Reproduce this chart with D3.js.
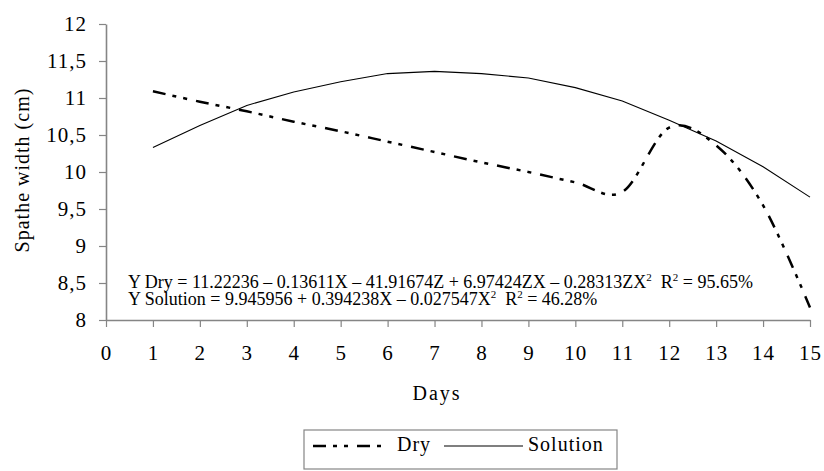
<!DOCTYPE html>
<html>
<head>
<meta charset="utf-8">
<script src="https://cdn.jsdelivr.net/npm/d3@7"></script>
<style>
  body { margin: 0; background: #fff; }
</style>
</head>
<body>
<svg id="chart" width="824" height="471"></svg>
<script>
// values
const days = [1, 2, 3, 4, 5, 6, 7, 8, 9, 10, 11, 12, 13, 14, 15];
const dryValues = [11.09, 10.95, 10.82, 10.68, 10.55, 10.41, 10.27, 10.13, 10.0, 9.86, 9.73, 10.6, 10.36, 9.55, 8.17];
const solutionValues = [10.33, 10.63, 10.9, 11.08, 11.22, 11.33, 11.36, 11.33, 11.27, 11.14, 10.96, 10.7, 10.42, 10.07, 9.66];
const xTicks = [0, 1, 2, 3, 4, 5, 6, 7, 8, 9, 10, 11, 12, 13, 14, 15];
const yTicks = [8, 8.5, 9, 9.5, 10, 10.5, 11, 11.5, 12];
const seriesNames = ['Dry', 'Solution'];
// equation parts: [text, superscript?]
const eqDry = [['Y Dry = 11.22236 – 0.13611X – 41.91674Z + 6.97424ZX – 0.28313ZX', false], ['2', true], ['  R', false], ['2', true], [' = 95.65%', false]];
const eqSolution = [['Y Solution = 9.945956 + 0.394238X – 0.027547X', false], ['2', true], ['  R', false], ['2', true], [' = 46.28%', false]];

const serif = "'Liberation Serif', 'Times New Roman', serif";
const svg = d3.select('#chart');
const axisColor = '#858585';

const x = d3.scaleLinear().domain([0, 15]).range([106, 810]);
const y = d3.scaleLinear().domain([8, 12]).range([320, 24]);

// y axis
const yAxis = svg.append('g')
  .attr('transform', 'translate(106,0)')
  .call(d3.axisLeft(y).tickValues(yTicks).tickSize(7).tickSizeOuter(0).tickPadding(12)
    .tickFormat(d => String(d).replace('.', ',')));

// x axis
const xAxis = svg.append('g')
  .attr('transform', 'translate(0,320)')
  .call(d3.axisBottom(x).tickValues(xTicks).tickSize(7).tickSizeOuter(0).tickPadding(18));

[yAxis, xAxis].forEach(g => {
  g.select('.domain').attr('stroke', axisColor).attr('stroke-width', 1.6);
  g.selectAll('.tick line').attr('stroke', axisColor).attr('stroke-width', 1.2);
  g.selectAll('.tick text')
    .style('font-family', serif)
    .style('font-size', '21px')
    .attr('letter-spacing', 1)
    .attr('fill', '#000');
});

// axis titles
svg.append('text')
  .attr('transform', 'translate(29,170) rotate(-90)')
  .attr('text-anchor', 'middle')
  .style('font-family', serif)
  .style('font-size', '20px')
  .attr('letter-spacing', 1)
  .text('Spathe width (cm)');

svg.append('text')
  .attr('x', 437)
  .attr('y', 400)
  .attr('text-anchor', 'middle')
  .style('font-family', serif)
  .style('font-size', '20px')
  .attr('letter-spacing', 2)
  .text('Days');

// lines
const dryLine = d3.line()
  .x((d, i) => x(days[i]))
  .y(d => y(d))
  .curve(d3.curveCardinal.tension(0));

const solLine = d3.line()
  .x((d, i) => x(days[i]))
  .y(d => y(d));

svg.append('path')
  .datum(solutionValues)
  .attr('d', solLine)
  .attr('fill', 'none')
  .attr('stroke', '#000')
  .attr('stroke-width', 1.1);

svg.append('path')
  .datum(dryValues)
  .attr('d', dryLine)
  .attr('fill', 'none')
  .attr('stroke', '#000')
  .attr('stroke-width', 2.5)
  .attr('stroke-dasharray', '13,7,4,7,4,9');

// regression equations
function equation(parts, yPos) {
  const t = svg.append('text')
    .attr('x', 128)
    .attr('y', yPos)
    .style('font-family', serif)
    .style('font-size', '18px')
    .style('white-space', 'pre');
  parts.forEach(p => {
    const s = t.append('tspan').text(p[0]);
    if (p[1]) s.style('font-size', '11px').attr('dy', -7);
    else s.attr('dy', 7);
  });
  t.select('tspan').attr('dy', 0);
}
equation(eqDry, 288);
equation(eqSolution, 304.5);

// legend
const legend = svg.append('g');
legend.append('rect')
  .attr('x', 304).attr('y', 430)
  .attr('width', 313).attr('height', 39)
  .attr('fill', '#fff')
  .attr('stroke', axisColor)
  .attr('stroke-width', 1.2);

legend.append('line')
  .attr('x1', 313).attr('x2', 386).attr('y1', 446).attr('y2', 446)
  .attr('stroke', '#000').attr('stroke-width', 2.5)
  .attr('stroke-dasharray', '13,7,4,7,4,9');
legend.append('text')
  .attr('x', 397).attr('y', 451)
  .style('font-family', serif)
  .style('font-size', '20px')
  .attr('letter-spacing', 1)
  .text(seriesNames[0]);

legend.append('line')
  .attr('x1', 444).attr('x2', 523).attr('y1', 446).attr('y2', 446)
  .attr('stroke', '#000').attr('stroke-width', 1.1);
legend.append('text')
  .attr('x', 528).attr('y', 451)
  .style('font-family', serif)
  .style('font-size', '20px')
  .attr('letter-spacing', 1)
  .text(seriesNames[1]);
</script>
</body>
</html>
